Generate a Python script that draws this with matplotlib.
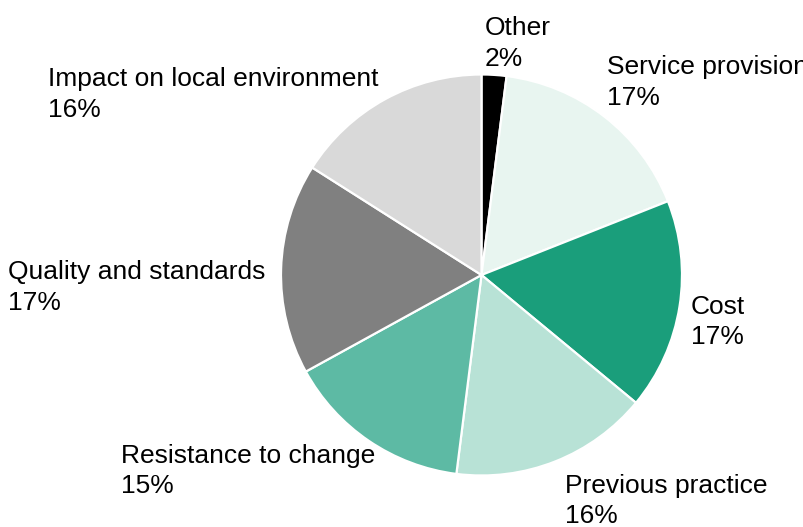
import matplotlib
matplotlib.use("Agg")
import matplotlib.pyplot as plt

categories = ["Other", "Service provision", "Cost", "Previous practice",
              "Resistance to change", "Quality and standards",
              "Impact on local environment"]
values = [2, 17, 17, 16, 15, 17, 16]
colors = ["#000000", "#e8f5f0", "#1a9e7b", "#b8e2d6", "#5dbaa4", "#808080", "#d9d9d9"]

# label anchor (left, cap-top) in pie-radius units
label_pos = [(0.0175, 1.290), (0.626, 1.095), (1.043, -0.100), (0.416, -0.992),
             (-1.80, -0.843), (-2.362, 0.073), (-2.162, 1.035)]

plt.rcParams['font.family'] = ['Liberation Sans', 'DejaVu Sans']

fig = plt.figure(figsize=(8.04, 5.27), dpi=100)
ax = fig.add_axes([0, 0, 1, 1])
ax.pie(values, colors=colors, startangle=90, counterclock=False, radius=1,
       wedgeprops=dict(edgecolor="white", linewidth=1.6))
ax.set_aspect('auto')
ax.set_xlim(-481.5 / 200.5, (804 - 481.5) / 200.5)
ax.set_ylim((275 - 527) / 200.5, 275 / 200.5)
ax.axis('off')

for name, v, (x, y) in zip(categories, values, label_pos):
    ax.text(x, y, f"{name}\n{v}%", ha='left', va='top', fontsize=19,
            linespacing=1.33, color="#000000", clip_on=False)

fig.savefig("out.png", dpi=100)
